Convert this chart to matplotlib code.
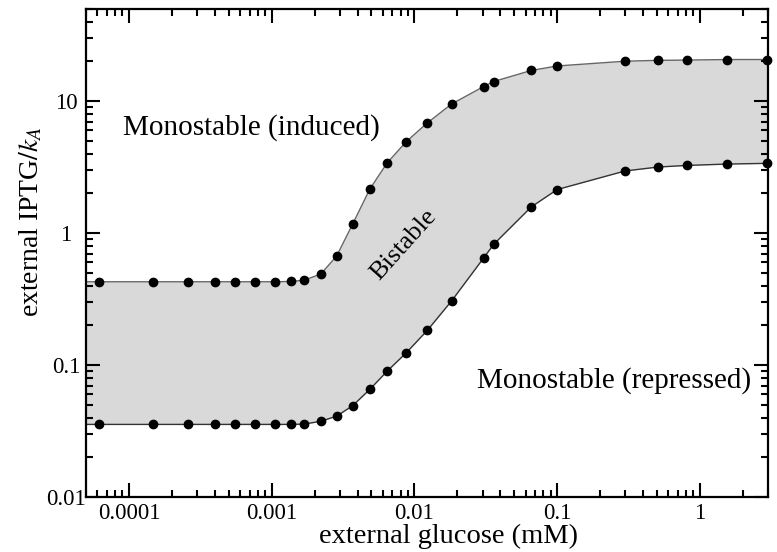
import matplotlib
matplotlib.use("Agg")
import matplotlib.pyplot as plt
from matplotlib.ticker import LogLocator, NullFormatter, FixedLocator, FixedFormatter

plt.rcParams['font.family'] = ['Liberation Serif', 'DejaVu Serif']
plt.rcParams['mathtext.fontset'] = 'stix'

# external glucose (mM)
glucose = [6.2e-5, 1.47e-4, 2.59e-4, 4.0e-4, 5.5e-4, 7.6e-4, 1.05e-3, 1.36e-3,
           1.69e-3, 2.21e-3, 2.85e-3, 3.69e-3, 4.86e-3, 6.43e-3, 8.77e-3, 0.0123,
           0.0182, 0.0305, 0.0359, 0.0658, 0.100, 0.299, 0.508, 0.811, 1.56, 2.95]
# upper boundary (induced)
upper = [0.428, 0.428, 0.428, 0.428, 0.428, 0.428, 0.428, 0.43,
         0.44, 0.49, 0.67, 1.17, 2.15, 3.40, 4.94, 6.84,
         9.52, 12.9, 14.1, 17.1, 18.5, 20.1, 20.4, 20.5, 20.7, 20.7]
# lower boundary (repressed)
lower = [0.0355, 0.0355, 0.0355, 0.0355, 0.0355, 0.0355, 0.0355, 0.0355,
         0.0357, 0.0375, 0.041, 0.0492, 0.0653, 0.0897, 0.124, 0.183,
         0.306, 0.647, 0.822, 1.58, 2.14, 2.96, 3.17, 3.26, 3.34, 3.38]

xticks = [1e-4, 1e-3, 1e-2, 1e-1, 1]
xticklabels = ["0.0001", "0.001", "0.01", "0.1", "1"]
yticks = [0.01, 0.1, 1, 10]
yticklabels = ["0.01", "0.1", "1", "10"]
xlim = (5e-5, 3.0)
ylim = (0.01, 50)

fig = plt.figure(figsize=(7.77, 5.52), dpi=100)
ax = fig.add_axes([86/777, 1-497/552, (768-86)/777, (497-9)/552])

# the boundaries continue flat to the left edge of the plot
gx = [xlim[0]] + glucose
gu = [upper[0]] + upper
gl = [lower[0]] + lower

ax.fill_between(gx, gl, gu, color='#d9d9d9', lw=0, zorder=1)
ax.plot(gx, gu, '-', color='#666666', lw=1.0, zorder=2)
ax.plot(gx, gl, '-', color='#333333', lw=1.0, zorder=2)
for ys in (upper, lower):
    ax.plot(glucose, ys, 'o', color='black', ms=6, zorder=3, clip_on=False)

ax.set_xscale('log')
ax.set_yscale('log')
ax.set_xlim(*xlim)
ax.set_ylim(*ylim)

ax.xaxis.set_major_locator(FixedLocator(xticks))
ax.xaxis.set_major_formatter(FixedFormatter(xticklabels))
ax.yaxis.set_major_locator(FixedLocator(yticks))
ax.yaxis.set_major_formatter(FixedFormatter(yticklabels))
ax.xaxis.set_minor_locator(LogLocator(base=10, subs=range(2, 10), numticks=20))
ax.yaxis.set_minor_locator(LogLocator(base=10, subs=range(2, 10), numticks=20))
ax.xaxis.set_minor_formatter(NullFormatter())
ax.yaxis.set_minor_formatter(NullFormatter())

ax.tick_params(which='both', direction='in', top=True, right=True, width=1.5,
               labelsize=16.5, colors='black')
ax.tick_params(which='major', length=10)
ax.tick_params(which='minor', length=5)
ax.tick_params(axis='x', which='major', pad=4)
ax.tick_params(axis='y', which='major', pad=14.4)
for lab in ax.get_yticklabels():
    lab.set_horizontalalignment('center')
for s in ax.spines.values():
    s.set_linewidth(1.6)

ax.set_xlabel("external glucose (mM)", fontsize=20.5)
ax.xaxis.set_label_coords((449 - 86) / 682, (497 - 524) / 488)
ax.set_ylabel(r"external IPTG$/k_A$", fontsize=20)
ax.yaxis.set_label_coords((44 - 86) / 682, (497 - 222) / 488)

ax.text(7.2e-4, 6.3, "Monostable (induced)", fontsize=21, ha='center', va='center')
ax.text(0.249, 0.076, "Monostable (repressed)", fontsize=21, ha='center', va='center')
ax.text(8.4e-3, 0.81, "Bistable", fontsize=19, ha='center', va='center', rotation=48)

fig.savefig("out.png", dpi=100)
